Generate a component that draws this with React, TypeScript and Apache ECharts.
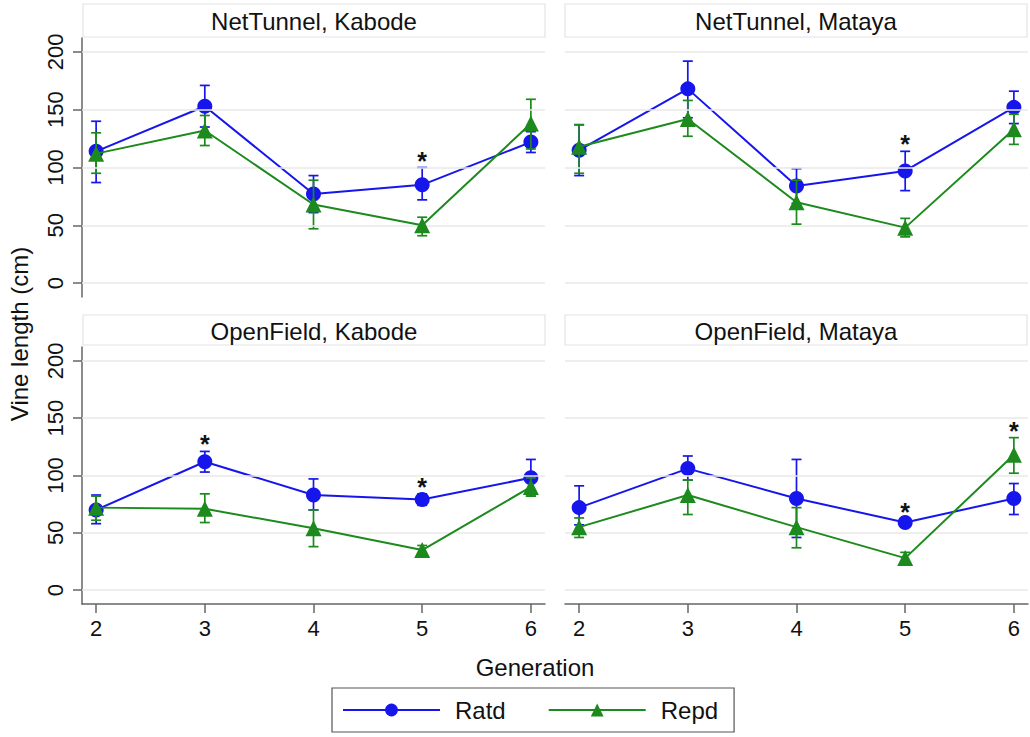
import React, { useEffect, useRef } from 'react';
import * as echarts from 'echarts';

// ---------- data ----------
const generations = [2, 3, 4, 5, 6];
const yTicks = [0, 50, 100, 150, 200];
const panelTitles = ['NetTunnel, Kabode', 'NetTunnel, Mataya', 'OpenField, Kabode', 'OpenField, Mataya'];
const seriesNames = ['Ratd', 'Repd'];

// NetTunnel, Kabode
const ntKabodeRatd = [114, 153, 77, 85, 122];
const ntKabodeRatdLo = [87, 135, 61, 72, 113];
const ntKabodeRatdHi = [140, 171, 93, 100, 131];
const ntKabodeRepd = [112, 132, 68, 50, 138];
const ntKabodeRepdLo = [95, 119, 47, 41, 116];
const ntKabodeRepdHi = [130, 145, 89, 57, 159];
const ntKabodeSig = [0, 0, 0, 1, 0];

// NetTunnel, Mataya
const ntMatayaRatd = [115, 168, 84, 97, 152];
const ntMatayaRatdLo = [93, 143, 69, 80, 138];
const ntMatayaRatdHi = [137, 192, 99, 114, 166];
const ntMatayaRepd = [118, 142, 70, 48, 133];
const ntMatayaRepdLo = [95, 127, 51, 40, 120];
const ntMatayaRepdHi = [137, 158, 89, 56, 146];
const ntMatayaSig = [0, 0, 0, 1, 0];

// OpenField, Kabode
const ofKabodeRatd = [70, 112, 83, 79, 98];
const ofKabodeRatdLo = [58, 103, 70, 74, 82];
const ofKabodeRatdHi = [83, 121, 97, 84, 114];
const ofKabodeRepd = [72, 71, 54, 35, 90];
const ofKabodeRepdLo = [61, 59, 38, 32, 82];
const ofKabodeRepdHi = [82, 84, 70, 39, 98];
const ofKabodeSig = [0, 1, 0, 1, 0];

// OpenField, Mataya
const ofMatayaRatd = [72, 106, 80, 59, 80];
const ofMatayaRatdLo = [57, 96, 46, 56, 66];
const ofMatayaRatdHi = [91, 117, 114, 62, 93];
const ofMatayaRepd = [55, 83, 55, 28, 118];
const ofMatayaRepdLo = [46, 66, 37, 24, 102];
const ofMatayaRepdHi = [63, 96, 72, 33, 133];
const ofMatayaSig = [0, 0, 0, 1, 1];

// ---------- styling ----------
const FONT = '"Liberation Sans", Arial, Helvetica, sans-serif';
const BLUE = '#1616ec';
const GREEN = '#1c8a1c';
const AXIS = '#666666';
const GRIDLINE = '#e9e9e9';

const grids = [
  { left: 82, top: 38, width: 463, height: 259 },
  { left: 565, top: 38, width: 463, height: 259 },
  { left: 82, top: 347, width: 463, height: 257 },
  { left: 565, top: 347, width: 463, height: 257 },
];
const stripBoxes = [
  { x: 83, y: 4, w: 462, h: 33 },
  { x: 565, y: 4, w: 462, h: 33 },
  { x: 83, y: 315, w: 462, h: 30 },
  { x: 565, y: 315, w: 462, h: 30 },
];

const panels = [
  { ratd: ntKabodeRatd, ratdLo: ntKabodeRatdLo, ratdHi: ntKabodeRatdHi, repd: ntKabodeRepd, repdLo: ntKabodeRepdLo, repdHi: ntKabodeRepdHi, sig: ntKabodeSig },
  { ratd: ntMatayaRatd, ratdLo: ntMatayaRatdLo, ratdHi: ntMatayaRatdHi, repd: ntMatayaRepd, repdLo: ntMatayaRepdLo, repdHi: ntMatayaRepdHi, sig: ntMatayaSig },
  { ratd: ofKabodeRatd, ratdLo: ofKabodeRatdLo, ratdHi: ofKabodeRatdHi, repd: ofKabodeRepd, repdLo: ofKabodeRepdLo, repdHi: ofKabodeRepdHi, sig: ofKabodeSig },
  { ratd: ofMatayaRatd, ratdLo: ofMatayaRatdLo, ratdHi: ofMatayaRatdHi, repd: ofMatayaRepd, repdLo: ofMatayaRepdLo, repdHi: ofMatayaRepdHi, sig: ofMatayaSig },
];

const errorBarRender = (color: string) => (params: any, api: any) => {
  const x = api.value(0);
  const lo = api.coord([x, api.value(1)]);
  const hi = api.coord([x, api.value(2)]);
  const hw = 5;
  const style = { stroke: color, lineWidth: 1.7, fill: 'none' };
  return {
    type: 'group',
    children: [
      { type: 'line', shape: { x1: lo[0], y1: lo[1], x2: hi[0], y2: hi[1] }, style },
      { type: 'line', shape: { x1: lo[0] - hw, y1: lo[1], x2: lo[0] + hw, y2: lo[1] }, style },
      { type: 'line', shape: { x1: hi[0] - hw, y1: hi[1], x2: hi[0] + hw, y2: hi[1] }, style },
    ],
  };
};

const starRender = (params: any, api: any) => {
  if (!api.value(2)) return null;
  const p = api.coord([api.value(0), api.value(1)]);
  return {
    type: 'text',
    x: p[0],
    y: p[1] - 7,
    style: { text: '*', fontSize: 25, fontWeight: 'bold', fontFamily: FONT, fill: '#111', align: 'center', verticalAlign: 'middle' },
  };
};

function buildOption() {
  const xAxis: any[] = [];
  const yAxis: any[] = [];
  const series: any[] = [];
  grids.forEach((g, i) => {
    const showX = i >= 2;
    const showY = i % 2 === 0;
    xAxis.push({
      gridIndex: i,
      type: 'value',
      min: 1.87,
      max: 6.13,
      axisLine: { show: showX, onZero: false, lineStyle: { color: AXIS, width: 1.5 } },
      axisTick: { show: showX, length: 9, customValues: generations, lineStyle: { color: AXIS, width: 1.5 } },
      axisLabel: { show: showX, customValues: generations, fontSize: 22, fontFamily: FONT, color: '#111', margin: 13 },
      splitLine: { show: false },
    });
    yAxis.push({
      gridIndex: i,
      type: 'value',
      min: -12,
      max: 212,
      axisLine: { show: showY, onZero: false, lineStyle: { color: AXIS, width: 1.5 } },
      axisTick: { show: showY, length: 9, customValues: yTicks, lineStyle: { color: AXIS, width: 1.5 } },
      axisLabel: { show: showY, customValues: yTicks, rotate: 90, fontSize: 22, fontFamily: FONT, color: '#111', margin: 16 },
      splitLine: { show: false },
    });
    const p = panels[i];
    series.push({
      type: 'line',
      name: 'grid' + i,
      xAxisIndex: i,
      yAxisIndex: i,
      data: [],
      silent: true,
      z: 0,
      markLine: {
        silent: true,
        symbol: 'none',
        label: { show: false },
        lineStyle: { color: GRIDLINE, width: 1.5, type: 'solid' },
        data: yTicks.map((v) => ({ yAxis: v })),
      },
    });
    series.push({
      type: 'custom',
      name: 'Ratd CI ' + i,
      xAxisIndex: i,
      yAxisIndex: i,
      z: 2,
      renderItem: errorBarRender(BLUE),
      encode: { x: 0, y: [1, 2] },
      data: generations.map((gen, k) => [gen, p.ratdLo[k], p.ratdHi[k]]),
    });
    series.push({
      type: 'line',
      name: seriesNames[0],
      xAxisIndex: i,
      yAxisIndex: i,
      z: 3,
      symbol: 'circle',
      symbolSize: 15,
      lineStyle: { color: BLUE, width: 2 },
      itemStyle: { color: BLUE },
      data: generations.map((gen, k) => [gen, p.ratd[k]]),
    });
    series.push({
      type: 'custom',
      name: 'Repd CI ' + i,
      xAxisIndex: i,
      yAxisIndex: i,
      z: 4,
      renderItem: errorBarRender(GREEN),
      encode: { x: 0, y: [1, 2] },
      data: generations.map((gen, k) => [gen, p.repdLo[k], p.repdHi[k]]),
    });
    series.push({
      type: 'line',
      name: seriesNames[1],
      xAxisIndex: i,
      yAxisIndex: i,
      z: 5,
      symbol: 'triangle',
      symbolSize: 16,
      lineStyle: { color: GREEN, width: 2 },
      itemStyle: { color: GREEN },
      data: generations.map((gen, k) => [gen, p.repd[k]]),
    });
    series.push({
      type: 'custom',
      name: 'sig ' + i,
      xAxisIndex: i,
      yAxisIndex: i,
      z: 6,
      renderItem: starRender,
      encode: { x: 0, y: 1 },
      data: generations.map((gen, k) => [gen, Math.max(p.ratdHi[k], p.repdHi[k]), p.sig[k]]),
    });
  });

  const graphic: any[] = [];
  stripBoxes.forEach((b, i) => {
    graphic.push({
      type: 'rect',
      shape: { x: b.x, y: b.y, width: b.w, height: b.h },
      style: { fill: '#fff', stroke: '#e4e4e4', lineWidth: 1.2 },
      silent: true,
    });
    graphic.push({
      type: 'text',
      x: b.x + b.w / 2,
      y: b.y + b.h / 2 + 1,
      style: { text: panelTitles[i], fontSize: 24, fontFamily: FONT, fill: '#111', align: 'center', verticalAlign: 'middle' },
      silent: true,
    });
  });
  graphic.push({
    type: 'text',
    x: 19,
    y: 334,
    rotation: Math.PI / 2,
    style: { text: 'Vine length (cm)', fontSize: 24, fontFamily: FONT, fill: '#111', align: 'center', verticalAlign: 'middle' },
    silent: true,
  });
  graphic.push({
    type: 'text',
    x: 535,
    y: 667,
    style: { text: 'Generation', fontSize: 24, fontFamily: FONT, fill: '#111', align: 'center', verticalAlign: 'middle' },
    silent: true,
  });

  return {
    animation: false,
    backgroundColor: '#ffffff',
    grid: grids.map((g) => ({ ...g, containLabel: false })),
    xAxis,
    yAxis,
    legend: {
      data: seriesNames,
      left: 332,
      top: 688,
      itemWidth: 97,
      itemHeight: 16,
      itemGap: 42,
      selectedMode: false,
      borderColor: '#555',
      borderWidth: 1.2,
      borderRadius: 0,
      padding: [10, 16, 10, 10],
      textStyle: { fontSize: 24, fontFamily: FONT, color: '#111', padding: [0, 0, 0, 10] },
    },
    series,
    graphic,
  };
}

export default function App() {
  const ref = useRef<HTMLDivElement>(null);
  useEffect(() => {
    if (!ref.current) return;
    const chart = echarts.init(ref.current, undefined, { renderer: 'svg' });
    chart.setOption(buildOption() as any);
    return () => chart.dispose();
  }, []);
  return (
    <div
      ref={ref}
      style={{ position: 'absolute', left: 0, top: 0, width: 1030, height: 737, background: '#fff' }}
    />
  );
}
